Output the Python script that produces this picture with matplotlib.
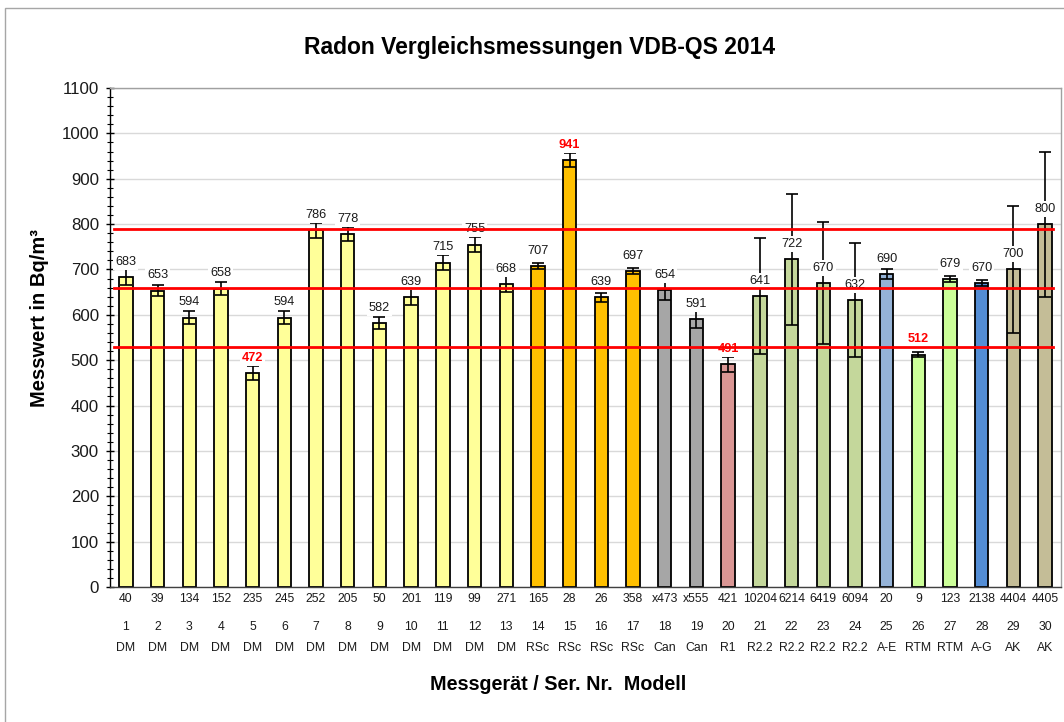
import matplotlib
matplotlib.use("Agg")
import matplotlib.pyplot as plt
from matplotlib.patches import Rectangle
import numpy as np

plt.rcParams['font.family'] = ['Liberation Sans', 'DejaVu Sans']

# ---- data ----
numbers = list(range(1, 31))
serials = ["40", "39", "134", "152", "235", "245", "252", "205", "50", "201",
           "119", "99", "271", "165", "28", "26", "358", "x473", "x555", "421",
           "10204", "6214", "6419", "6094", "20", "9", "123", "2138", "4404", "4405"]
models = ["DM"] * 13 + ["RSc"] * 4 + ["Can", "Can", "R1", "R2.2", "R2.2", "R2.2", "R2.2",
                                       "A-E", "RTM", "RTM", "A-G", "AK", "AK"]
values = [683, 653, 594, 658, 472, 594, 786, 778, 582, 639, 715, 755, 668, 707, 941,
          639, 697, 654, 591, 491, 641, 722, 670, 632, 690, 512, 679, 670, 700, 800]
errors = [18, 12, 14, 15, 15, 14, 17, 16, 14, 17, 16, 17, 18, 7, 15,
          10, 7, 21, 20, 17, 128, 144, 134, 126, 12, 6, 7, 6, 140, 160]
outliers = [5, 15, 20, 26]          # numbers with red labels
ref_lines = [530, 660, 790]

model_colors = {"DM": "#FFFF99", "RSc": "#FFC000", "Can": "#A6A6A6", "R1": "#DA9694",
                "R2.2": "#C4D79B", "A-E": "#95B3D7", "RTM": "#CCFF99", "A-G": "#538DD5",
                "AK": "#C4BD97"}
colors = [model_colors[m] for m in models]

# ---- figure ----
W, H = 1064, 722
fig = plt.figure(figsize=(W / 100, H / 100), dpi=100)
left, right, top, bottom = 110, 1061, 88, 587
ax = fig.add_axes([left / W, 1 - bottom / H, (right - left) / W, (bottom - top) / H])

# outer frame
fig.patches.append(Rectangle((5 / W, -0.05), 1.2, 1 - 8 / H + 0.05, transform=fig.transFigure,
                             fill=False, edgecolor="#A6A6A6", linewidth=1.0))

x = np.arange(len(values))
ax.bar(x, values, width=0.42, color=colors, edgecolor="black", linewidth=1.3, zorder=2)
ax.errorbar(x, values, yerr=errors, fmt="none", ecolor="black", elinewidth=1.2,
            capsize=4.5, capthick=1.2, zorder=3)

for xi, v, n in zip(x, values, numbers):
    red = n in outliers
    ax.annotate(str(v), (xi, v), xytext=(0, 11), textcoords="offset points",
                ha="center", va="center", fontsize=9.2,
                color="red" if red else "#1a1a1a", fontweight="bold" if red else "normal",
                bbox=dict(boxstyle="square,pad=0.15", fc="white", ec="none"), zorder=4)

for r in ref_lines:
    ax.axhline(r, xmin=0.004, xmax=0.992, color="red", linewidth=2.0, zorder=5)

ax.set_xlim(-0.5, len(values) - 0.5)
ax.set_ylim(0, 1100)
ax.set_yticks(np.arange(0, 1101, 100))
ax.set_yticks(np.arange(0, 1101, 20), minor=True)
ax.tick_params(axis="y", which="major", direction="inout", length=6, width=1.0,
               labelsize=12.2, pad=5, labelcolor="#1a1a1a")
ax.tick_params(axis="y", which="minor", direction="inout", length=4.5, width=0.8)
ax.tick_params(axis="x", which="both", length=0, labelbottom=False)
ax.grid(axis="y", which="major", color="#D9D9D9", linewidth=1.0, zorder=0)
ax.set_axisbelow(True)
ax.spines["left"].set_color("black")
ax.spines["bottom"].set_color("#404040")
ax.spines["top"].set_color("#A0A0A0")
ax.spines["right"].set_color("#A0A0A0")
for s in ax.spines.values():
    s.set_linewidth(1.0)

# category labels (three rows)
for xi, s, n, m in zip(x, serials, numbers, models):
    for txt, off in ((s, 12), (str(n), 40), (m, 61)):
        ax.annotate(txt, (xi, 0), xycoords=("data", "axes fraction"),
                    xytext=(0, -off * 0.72), textcoords="offset points",
                    ha="center", va="center", fontsize=8.8, color="#1a1a1a")

fig.text(540 / W, 1 - 54 / H, "Radon Vergleichsmessungen VDB-QS 2014", ha="center",
         va="baseline", fontsize=16.5, fontweight="bold")
fig.text(558 / W, 1 - 690 / H, "Messgerät / Ser. Nr.  Modell", ha="center",
         va="baseline", fontsize=14.2, fontweight="bold")
fig.text(40 / W, 1 - 318 / H, "Messwert in Bq/m³", ha="center", va="center",
         rotation=90, fontsize=14.5, fontweight="bold")

fig.savefig("out.png", dpi=100)
